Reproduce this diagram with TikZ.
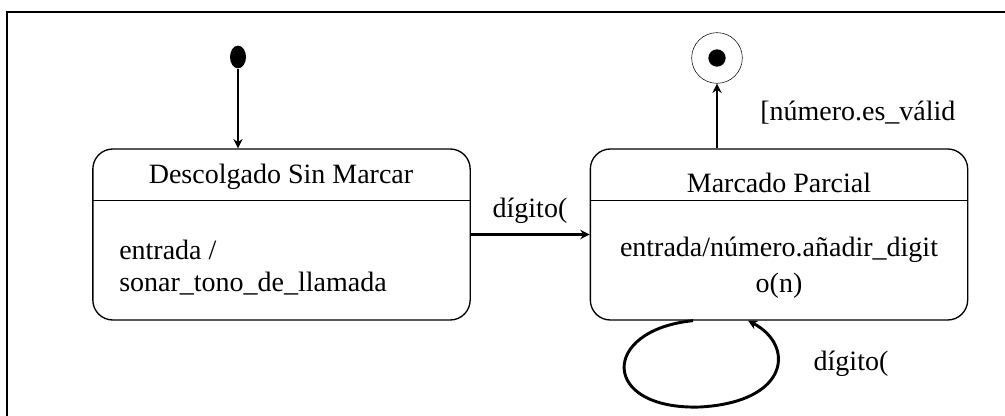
\documentclass[tikz,border=0pt]{standalone}
\usepackage{fontspec}
\setmainfont{Liberation Serif}
\usetikzlibrary{arrows.meta,shapes.geometric}

\begin{document}
\begin{tikzpicture}[x=0.75pt,y=-0.75pt,
    state/.style={draw,line width=1pt,rectangle,rounded corners=15pt,minimum width=283pt,minimum height=128.25pt},
    trans/.style={line width=2.2pt,-{Stealth[length=7pt,width=7pt]}},
    lbl/.style={font=\fontsize{21}{25}\selectfont,inner sep=0pt}]
      \useasboundingbox (0,0) rectangle (1005,416);
      \draw[line width=2pt] (7,416) -- (7,12) -- (1005,12);

      \node[ellipse,fill,minimum width=12pt,minimum height=17pt,inner sep=0pt] (init) at (238,57) {};
      \node[circle,draw,minimum size=38pt,inner sep=0pt] (fin) at (717,58) {};
      \node[circle,fill,minimum size=13pt,inner sep=0pt] (findot) at (fin) {};

      \node[state] (desc) at (281.5,234.5) {};
      \node[state] (marc) at (779,234.5) {};
      \draw[line width=1pt] ([yshift=-39pt]desc.north west) -- ([yshift=-39pt]desc.north east);
      \draw[line width=1pt] ([yshift=-39pt]marc.north west) -- ([yshift=-39pt]marc.north east);

      \node[lbl] (desctit) at (281,177) {Descolgado Sin Marcar};
      \node[lbl,anchor=west] (descin) at (119,250) {entrada /};
      \node[lbl,anchor=west] (descact) at (119,284) {sonar\_tono\_de\_llamada};
      \node[lbl] (marctit) at (779,183) {Marcado Parcial};
      \node[lbl] (marcin) at (779,250) {entrada/número.añadir\_digit};
      \node[lbl] (marcact) at (779,286) {o(n)};

      \coordinate (loopa) at ([xshift=-64.5pt]marc.south);
      \coordinate (loopb) at ([xshift=-23.25pt]marc.south);

      \draw[trans] (init) -- (init |- desc.north);
      \draw[trans] (desc) -- (marc);
      \draw[trans] (fin |- marc.north) -- (fin);
      \draw[trans] (loopa) .. controls (600,330) and (600,410) .. (700,407)
        .. controls (790,402) and (795,345) .. (loopb);

      \node[lbl] (t1) at (530,211) {dígito(};
      \node[lbl,anchor=west] (t2) at (760,113) {[número.es\_válid};
      \node[lbl] (t3) at (851,364) {dígito(};
    \end{tikzpicture}
\end{document}
